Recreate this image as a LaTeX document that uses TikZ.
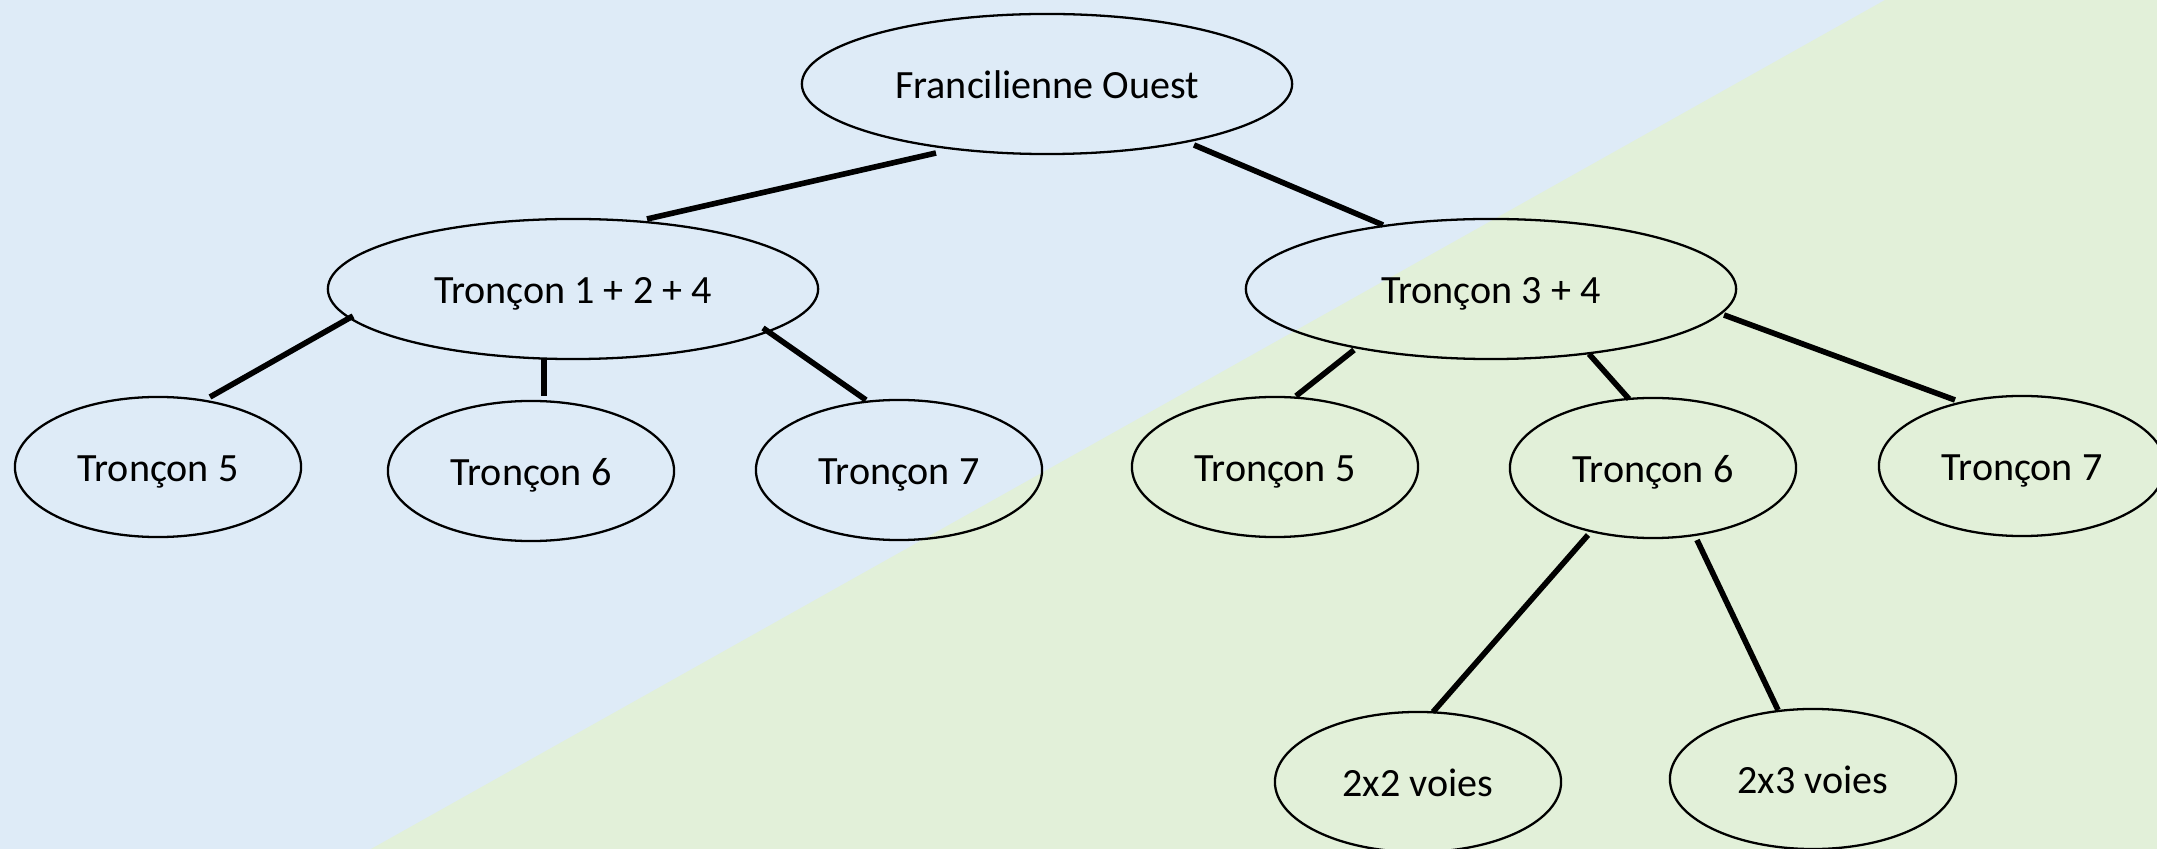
\documentclass[tikz,border=0pt]{standalone}
\usepackage{fontspec}
\setmainfont{Carlito}
\usetikzlibrary{shapes.geometric,calc}
\definecolor{bgblue}{RGB}{222,235,247}
\definecolor{bggreen}{RGB}{226,240,217}
\begin{document}
\begin{tikzpicture}[x=0.01cm,y=-0.01cm,
  ell/.style={ellipse,draw=black,line width=0.65pt,inner sep=0pt,outer sep=0pt,minimum height=1.4cm,text height=0.8em,text depth=0pt,font=\fontsize{11.4}{13}\selectfont},
  bigell/.style={ell,minimum width=4.9cm},
  smallell/.style={ell,minimum width=2.86cm},
  link/.style={line width=1.6pt,line cap=butt}]
\useasboundingbox (0,0) rectangle (2157,849);
\clip (0,0) rectangle (2157,849);
\fill[bgblue] (0,0) rectangle (2157,849);
\fill[bggreen] (1885,0) -- (2157,0) -- (2157,849) -- (371,849) -- cycle;

\node[bigell] (fo) at (1047,84) {Francilienne Ouest};
\node[bigell] (ta) at (573,289) {Tronçon 1 + 2 + 4};
\node[bigell] (tb) at (1491,289) {Tronçon 3 + 4};
\node[smallell] (a5) at (158,467) {Tronçon 5};
\node[smallell] (a6) at (531,471) {Tronçon 6};
\node[smallell] (a7) at (899,470) {Tronçon 7};
\node[smallell] (b5) at (1275,467) {Tronçon 5};
\node[smallell] (b6) at (1653,468) {Tronçon 6};
\node[smallell] (b7) at (2022,466) {Tronçon 7};
\node[smallell] (v2) at (1418,782) {2x2 voies};
\node[smallell] (v3) at (1813,779) {2x3 voies};

\draw[link] ($(fo)+(-111,69)$) -- ($(ta)+(74,-70)$);
\draw[link] ($(fo)+(147,61)$) -- ($(tb)+(-108,-64)$);
\draw[link] ($(ta)+(-220,27)$) -- ($(a5)+(52,-70)$);
\draw[link] ($(ta)+(-29,69)$) -- ($(a6)+(13,-75)$);
\draw[link] ($(ta)+(190,39)$) -- ($(a7)+(-33,-70)$);
\draw[link] ($(tb)+(-137,61)$) -- ($(b5)+(21,-71)$);
\draw[link] ($(tb)+(98,65)$) -- ($(b6)+(-24,-69)$);
\draw[link] ($(tb)+(233,26)$) -- ($(b7)+(-67,-66)$);
\draw[link] ($(b6)+(-65,67)$) -- ($(v2)+(15,-70)$);
\draw[link] ($(b6)+(44,72)$) -- ($(v3)+(-35,-69)$);
\end{tikzpicture}
\end{document}
